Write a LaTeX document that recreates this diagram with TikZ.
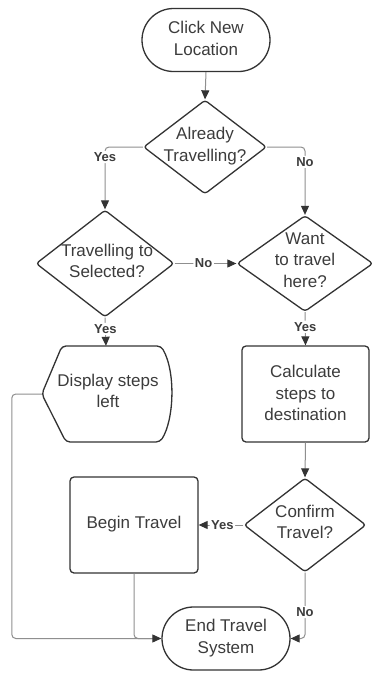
\documentclass[tikz,border=0pt]{standalone}
\usepackage{fontspec}
\setmainfont{Liberation Sans}
\usetikzlibrary{arrows.meta,shapes.geometric}
\definecolor{ink}{HTML}{333333}
\definecolor{wirec}{HTML}{8F8F8F}
\definecolor{txt}{HTML}{3C3C3C}

\begin{document}
\begin{tikzpicture}[x=1pt,y=-1pt,
  outline/.style={draw=ink, line width=1.3pt},
  words/.style={text=txt, font=\fontsize{17}{21.5}\selectfont, align=center, inner sep=0pt},
  procbox/.style={outline, rectangle, rounded corners=4pt, inner sep=0pt},
  termbox/.style={outline, rectangle, rounded corners=31.5pt, minimum width=128pt, minimum height=63pt, inner sep=0pt},
  decision/.style={outline, diamond, rounded corners=3pt, inner sep=0pt, aspect=1},
  plain/.style={rectangle, inner sep=0pt},
  wire/.style={draw=wirec, line width=1pt, rounded corners=4pt},
  arrowed/.style={wire, -{Triangle[length=9pt,width=8pt,color=ink]}},
  tag/.style={fill=white, text=txt, font=\fontsize{13}{15}\selectfont\bfseries, inner sep=1.5pt}
]
\fill[white] (0,0) rectangle (372,673);
\useasboundingbox (0,0) rectangle (372,673);

% terminals
\node[termbox] (start) at (206,40) {};
\node[words] (startt) at (206,38.5) {Click New\\Location};
\node[termbox] (end) at (226,638.5) {};
\node[words] (endt) at (226,638) {End Travel\\System};

% decisions
\node[decision, minimum width=123pt, minimum height=94pt] (d1) at (205,147) {};
\node[words] (d1t) at (205,146) {Already\\Travelling?};
\node[decision, minimum width=138pt, minimum height=107pt] (d2) at (105,263.5) {};
\node[words] (d2t) at (107,261) {Travelling to\\Selected?};
\node[decision, minimum width=136pt, minimum height=96pt] (d3) at (305,263.5) {};
\node[words] (d3t) at (305,260) {Want\\to travel\\here?};
\node[decision, minimum width=122pt, minimum height=94pt] (d4) at (305,525) {};
\node[words] (d4t) at (305,522) {Confirm\\Travel?};

% processes
\node[procbox, minimum width=127pt, minimum height=96pt] (calc) at (305.5,394) {};
\node[words] (calct) at (305.5,393) {Calculate\\steps to\\destination};
\node[procbox, minimum width=128pt, minimum height=96pt] (begin) at (134,525) {};
\node[words] (begint) at (134,524) {Begin Travel};

% display shape
\node[plain, minimum width=128pt, minimum height=96pt] (disp) at (106,394) {};
\draw[outline, rounded corners=4pt] (disp.west) -- (62,346) -- (161,346)
  .. controls (176,372) and (174,420) .. (160,442) -- (66,442) -- cycle;
\node[words] (dispt) at (108,391) {Display steps\\left};

% connectors
\draw[arrowed] (start.south) -- (d1.north);
\draw[arrowed] (d1.west) -| node[tag, pos=0.58] {Yes} (d2.north);
\draw[arrowed] (d1.east) -| node[tag, pos=0.61] {No} (d3.north);
\draw[arrowed] (d2.east) -- node[tag, pos=0.47] {No} (d3.west);
\draw[arrowed] (d2.south) -- node[tag, pos=0.40] {Yes} (disp.north);
\draw[arrowed] (d3.south) -- node[tag, pos=0.44] {Yes} (calc.north);
\draw[arrowed] (calc.south) -- (d4.north);
\draw[arrowed] (d4.west) -- node[tag, pos=0.47] {Yes} (begin.east);
\draw[arrowed] (d4.south) |- node[tag, pos=0.30] {No} (end.east);
\draw[wire] (begin.south) |- (end.west);
\draw[arrowed] (disp.west) -- ++(-30,0) |- (end.west);
\end{tikzpicture}
\end{document}
